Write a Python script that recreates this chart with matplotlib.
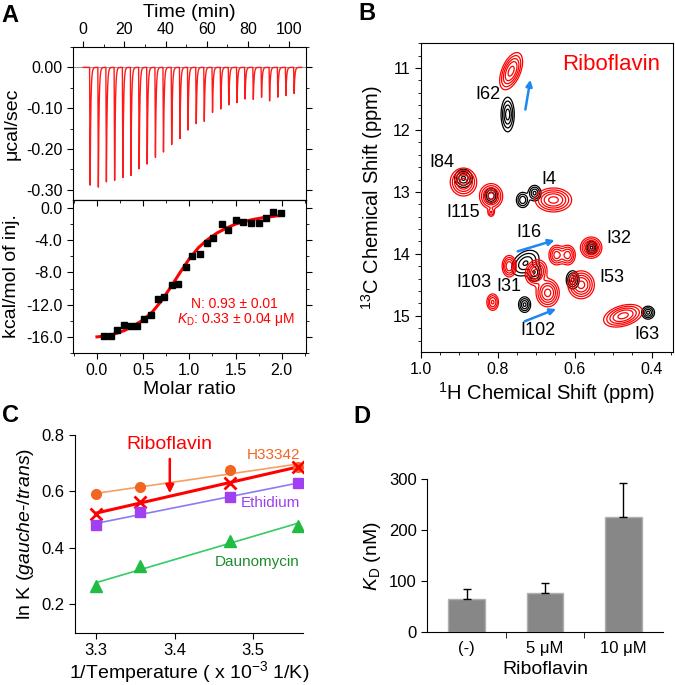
import numpy as np
import matplotlib.pyplot as plt
from matplotlib.ticker import MultipleLocator, FormatStrFormatter

plt.rcParams['font.family'] = ['Liberation Sans', 'DejaVu Sans']
plt.rcParams['mathtext.fontset'] = 'custom'
plt.rcParams['mathtext.rm'] = 'Liberation Sans'
plt.rcParams['mathtext.it'] = 'Liberation Sans:italic'

# ---------------- data ----------------
# A: ITC raw injections (time in min, peak depth in ucal/sec)
inj_times = [3.1, 7.1, 11.0, 15.0, 19.0, 22.9, 26.9, 30.8, 34.8, 38.7, 42.7, 46.7, 50.6,
             54.6, 58.5, 62.5, 66.5, 70.4, 74.4, 78.3, 82.3, 86.3, 90.2, 94.2, 98.1, 102.1]
peak_depths = [-0.290, -0.297, -0.284, -0.280, -0.271, -0.266, -0.253, -0.241, -0.221,
               -0.208, -0.192, -0.176, -0.155, -0.139, -0.133, -0.112, -0.102, -0.092,
               -0.088, -0.079, -0.079, -0.074, -0.083, -0.074, -0.070, -0.064]

# A: integrated heats
molar_ratio = [0.076, 0.148, 0.22, 0.29, 0.364, 0.436, 0.51, 0.58, 0.656, 0.73, 0.81, 0.88,
               0.96, 1.03, 1.11, 1.19, 1.26, 1.35, 1.42, 1.51, 1.585, 1.665, 1.75, 1.83,
               1.91, 1.99]
heat = [-15.85, -15.85, -15.2, -14.5, -14.6, -14.6, -13.8, -13.3, -11.3, -11.1, -9.5, -9.4,
        -7.3, -5.9, -5.7, -4.3, -3.7, -2.0, -2.7, -1.5, -1.7, -1.8, -1.8, -1.3, -0.5, -0.6]
fit_x = [0.0, 0.1, 0.2, 0.3, 0.4, 0.5, 0.6, 0.7, 0.8, 0.9, 1.0, 1.1, 1.2, 1.3, 1.4, 1.5,
         1.6, 1.7, 1.8, 1.9, 2.0]
fit_y = [-16.0, -15.9, -15.6, -15.2, -14.6, -13.9, -12.9, -11.5, -9.8, -8.0, -6.3, -4.9,
         -3.9, -3.1, -2.5, -2.0, -1.65, -1.4, -1.2, -1.05, -0.9]

# B: NMR peaks (1H ppm, 13C ppm, width 1H, width 13C, amplitude, shear)
red_x = [0.765, 0.889, 0.817, 0.817, 0.655, 0.557, 0.647, 0.618, 0.770, 0.700, 0.583, 0.670, 0.813, 0.474]
red_y = [11.05, 12.84, 13.07, 13.33, 13.13, 13.90, 14.02, 14.02, 14.20, 14.30, 14.50, 14.63, 14.78, 15.00]
red_sx = [0.012, 0.016, 0.014, 0.005, 0.022, 0.013, 0.010, 0.010, 0.009, 0.013, 0.016, 0.014, 0.008, 0.022]
red_sy = [0.14, 0.105, 0.095, 0.04, 0.09, 0.08, 0.08, 0.08, 0.085, 0.095, 0.105, 0.105, 0.07, 0.085]
red_amp = [1.0, 1.0, 1.0, 0.35, 1.0, 1.0, 0.7, 0.7, 0.8, 1.0, 1.0, 1.0, 0.6, 1.0]
red_shear = [0.05, 0.0, 0.0, 0.0, 0.0, 0.0, 0.0, 0.0, 0.0, 0.02, 0.0, 0.0, 0.0, 0.10]

blk_x = [0.774, 0.889, 0.817, 0.704, 0.735, 0.556, 0.728, 0.705, 0.605, 0.730, 0.409]
blk_y = [11.75, 12.78, 13.06, 13.02, 13.13, 13.90, 14.15, 14.30, 14.42, 14.82, 14.95]
blk_sx = [0.008, 0.011, 0.008, 0.008, 0.008, 0.007, 0.016, 0.009, 0.008, 0.0075, 0.008]
blk_sy = [0.13, 0.07, 0.06, 0.06, 0.06, 0.05, 0.10, 0.07, 0.07, 0.06, 0.05]
blk_amp = [1.0, 0.9, 0.8, 0.9, 0.8, 0.9, 0.85, 0.8, 0.9, 0.9, 0.9]
blk_shear = [0.0, 0.0, 0.0, 0.0, 0.0, 0.0, 0.06, 0.0, 0.0, 0.0, 0.0]

peak_labels = ['I62', 'I84', 'I115', 'I4', 'I16', 'I32', 'I53', 'I103', 'I31', 'I102', 'I63']
label_x = [0.824, 0.945, 0.890, 0.667, 0.720, 0.484, 0.504, 0.861, 0.770, 0.696, 0.413]
label_y = [11.43, 12.52, 13.33, 12.80, 13.65, 13.76, 14.39, 14.47, 14.53, 15.23, 15.31]
arrow_start = [(0.728, 11.67), (0.748, 13.96), (0.730, 15.09)]
arrow_end = [(0.715, 11.19), (0.652, 13.78), (0.648, 14.89)]

# C: van't Hoff
inv_T = [3.300, 3.356, 3.471, 3.558]
h33342 = [0.589, 0.614, 0.676, 0.688]
ribofl = [0.520, 0.563, 0.628, 0.688]
ethid = [0.480, 0.525, 0.581, 0.628]
dauno = [0.262, 0.335, 0.425, 0.478]

# D: KD
conds = ['(-)', '5 μM', '10 μM']
kd = [64.7, 77.8, 225.5]
kd_err = [19.6, 19.0, 67.0]

# ---------------- figure ----------------
fig = plt.figure(figsize=(6.75, 6.85), dpi=100)

# ----- A top: raw ITC -----
ax1 = fig.add_axes([0.108, 0.708, 0.345, 0.2234])
t = np.linspace(-1, 106, 9000)
sig = np.zeros_like(t)
for t0, d in zip(inj_times, peak_depths):
    dtt = t - t0
    rise = (dtt >= 0) & (dtt < 0.25)
    fall = dtt >= 0.25
    sig[rise] += d * dtt[rise] / 0.25
    sig[fall] += d * np.exp(-(dtt[fall] - 0.25) / 0.35)
ax1.axhline(0, color='#999999', lw=0.8, zorder=1)
ax1.plot(t[t > 0], sig[t > 0], color='#ff1a1a', lw=1.0, zorder=2)
ax1.set_xlim(-5, 108)
ax1.set_ylim(-0.325, 0.05)
ax1.xaxis.set_ticks_position('top')
ax1.xaxis.set_label_position('top')
ax1.set_xticks([0, 20, 40, 60, 80, 100])
ax1.xaxis.set_minor_locator(MultipleLocator(10))
ax1.set_yticks([0.0, -0.1, -0.2, -0.3])
ax1.yaxis.set_major_formatter(FormatStrFormatter('%.2f'))
ax1.yaxis.set_minor_locator(MultipleLocator(0.05))
ax1.tick_params(which='both', direction='out', right=True, labelsize=11.5)
ax1.tick_params(which='major', length=4)
ax1.tick_params(which='minor', length=2.5)
ax1.set_xlabel('Time (min)', fontsize=14, labelpad=3)
ax1.set_ylabel('μcal/sec', fontsize=14)

# ----- A bottom: integrated heats -----
ax2 = fig.add_axes([0.108, 0.4847, 0.345, 0.2234])
ax2.plot(fit_x, fit_y, color='#ff0000', lw=2.2, zorder=2)
ax2.plot(molar_ratio, heat, 's', color='black', ms=4.5, zorder=3)
ax2.set_xlim(-0.26, 2.26)
ax2.set_ylim(-18, 1)
ax2.set_xticks([0.0, 0.5, 1.0, 1.5, 2.0])
ax2.xaxis.set_major_formatter(FormatStrFormatter('%.1f'))
ax2.xaxis.set_minor_locator(MultipleLocator(0.25))
ax2.set_yticks([0, -4, -8, -12, -16])
ax2.yaxis.set_major_formatter(FormatStrFormatter('%.1f'))
ax2.yaxis.set_minor_locator(MultipleLocator(2))
ax2.tick_params(which='both', direction='out', right=True, labelsize=11.5)
ax2.tick_params(which='major', length=4)
ax2.tick_params(which='minor', length=2.5)
sec = ax2.secondary_xaxis('top')
sec.set_xticks([0.0, 0.5, 1.0, 1.5, 2.0])
sec.xaxis.set_minor_locator(MultipleLocator(0.25))
sec.tick_params(which='both', direction='in', labeltop=False)
sec.tick_params(which='major', length=4)
sec.tick_params(which='minor', length=2.5)
ax2.set_xlabel('Molar ratio', fontsize=14, labelpad=2)
ax2.set_ylabel('kcal/mol of inj.', fontsize=14)
ax2.text(1.49, -11.9, 'N: 0.93 ± 0.01', color='#ff0000', fontsize=10, ha='center', va='center')
ax2.text(1.51, -13.9, '$K_\\mathrm{D}$: 0.33 ± 0.04 μM', color='#ff0000', fontsize=10,
         ha='center', va='center')
fig.align_ylabels([ax1, ax2])

# ----- B: NMR overlay -----
axb = fig.add_axes([0.6233, 0.4866, 0.3733, 0.4502])
gx, gy = np.meshgrid(np.linspace(0.3, 1.05, 600), np.linspace(10.4, 15.8, 800))


def field(xs, ys, sxs, sys_, amps, shears):
    z = np.zeros_like(gx)
    for x0, y0, sx, sy, a, k in zip(xs, ys, sxs, sys_, amps, shears):
        xc = x0 + k * (gy - y0)
        z += a * np.exp(-0.5 * (((gx - xc) / sx) ** 2 + ((gy - y0) / sy) ** 2))
    return z


zb = field(blk_x, blk_y, blk_sx, blk_sy, blk_amp, blk_shear)
zr = field(red_x, red_y, red_sx, red_sy, red_amp, red_shear)
axb.contour(gx, gy, zb, levels=[0.1, 0.25, 0.5, 0.8], colors='black', linewidths=0.9)
axb.contour(gx, gy, zr, levels=[0.1, 0.2, 0.35, 0.55, 0.85], colors='#ff0000', linewidths=0.9)
for s, e in zip(arrow_start, arrow_end):
    axb.annotate('', xy=e, xytext=s,
                 arrowprops=dict(arrowstyle='-|>', color='#1e88f0', lw=1.8,
                                 mutation_scale=9, shrinkA=0, shrinkB=0))
for lab, lx, ly in zip(peak_labels, label_x, label_y):
    axb.text(lx, ly, lab, fontsize=13, ha='center', va='center')
axb.text(0.504, 10.95, 'Riboflavin', color='#ff0000', fontsize=16, ha='center', va='center')
axb.set_xlim(1.0, 0.345)
axb.set_ylim(15.58, 10.6)
axb.set_xticks([1.0, 0.8, 0.6, 0.4])
axb.xaxis.set_major_formatter(FormatStrFormatter('%.1f'))
axb.xaxis.set_minor_locator(MultipleLocator(0.05))
axb.set_yticks([11, 12, 13, 14, 15])
axb.yaxis.set_minor_locator(MultipleLocator(0.2))
axb.tick_params(which='both', direction='out', labelsize=11.5)
axb.tick_params(which='major', length=4)
axb.tick_params(which='minor', length=2.5)
axb.set_xlabel('$^{1}$H Chemical Shift (ppm)', fontsize=14.5, labelpad=2)
axb.set_ylabel('$^{13}$C Chemical Shift (ppm)', fontsize=14.5, labelpad=5)

# ----- C: ln K vs 1/T -----
axc = fig.add_axes([0.1111, 0.0764, 0.3378, 0.2886])
series = [
    (h33342, 'o', '#f26522', '#f5a060', 1.2, 7),
    (ribofl, 'x', '#ff0000', '#ff0000', 2.2, 8),
    (ethid, 's', '#a040f0', '#8a7cf0', 1.2, 7),
    (dauno, '^', '#22bb44', '#33cc66', 1.2, 8),
]
xs = np.array(inv_T)
for vals, mk, mc, lc, lw, ms in series:
    p = np.polyfit(xs, vals, 1)
    axc.plot(xs, np.polyval(p, xs), color=lc, lw=lw, zorder=2)
    if mk == 'x':
        axc.plot(xs, vals, mk, color=mc, ms=ms, mew=2, zorder=3)
    else:
        axc.plot(xs, vals, mk, color=mc, ms=ms, zorder=3)
axc.annotate('', xy=(3.394, 0.593), xytext=(3.394, 0.715),
             arrowprops=dict(arrowstyle='-|>', color='#ff0000', lw=1.8,
                             mutation_scale=12, shrinkA=0, shrinkB=0))
axc.text(3.394, 0.765, 'Riboflavin', color='#ff0000', fontsize=14, ha='center', va='center')
axc.text(3.526, 0.729, 'H33342', color='#f26522', fontsize=11, ha='center', va='center')
axc.text(3.523, 0.560, 'Ethidium', color='#a040f0', fontsize=11, ha='center', va='center')
axc.text(3.506, 0.350, 'Daunomycin', color='#1e8c2e', fontsize=11, ha='center', va='center')
axc.set_xlim(3.273, 3.564)
axc.set_ylim(0.098, 0.8)
axc.set_xticks([3.3, 3.4, 3.5])
axc.set_yticks([0.2, 0.4, 0.6, 0.8])
axc.spines['top'].set_visible(False)
axc.spines['right'].set_visible(False)
axc.tick_params(direction='out', length=4, labelsize=12)
axc.set_xlabel('1/Temperature ( x 10$^{-3}$ 1/K)', fontsize=14, labelpad=1)
axc.set_ylabel('ln K ($\\it{gauche}$-/$\\it{trans}$)', fontsize=14)

# ----- D: KD bars -----
axd = fig.add_axes([0.633, 0.0769, 0.3488, 0.2238])
pos = np.arange(len(conds))
axd.bar(pos, kd, width=0.47, color='#878787', edgecolor='#b0b0b0', lw=1, zorder=2)
axd.errorbar(pos, kd, yerr=[np.zeros(len(kd)), kd_err], fmt='none', ecolor='black',
             elinewidth=1, capsize=3, capthick=1, zorder=3)
axd.set_xlim(-0.5, 2.5)
axd.set_ylim(0, 300)
axd.set_yticks([0, 100, 200, 300])
axd.set_xticks(pos)
axd.set_xticklabels(conds)
axd.set_xticks([0.5, 1.5], minor=True)
axd.tick_params(axis='x', which='major', length=0, labelsize=12, pad=6)
axd.tick_params(axis='x', which='minor', length=4, direction='out')
axd.tick_params(axis='y', direction='out', length=4, labelsize=12)
axd.spines['top'].set_visible(False)
axd.spines['right'].set_visible(False)
axd.set_xlabel('Riboflavin', fontsize=14, labelpad=4)
axd.set_ylabel('$K_\\mathrm{D}$ (nM)', fontsize=14)

# panel letters
for lab, x, y in [('A', 0.015, 0.978), ('B', 0.543, 0.981), ('C', 0.015, 0.394), ('D', 0.536, 0.392)]:
    fig.text(x, y, lab, fontsize=17, fontweight='bold', ha='center', va='center')

fig.savefig('out.png', dpi=100)
